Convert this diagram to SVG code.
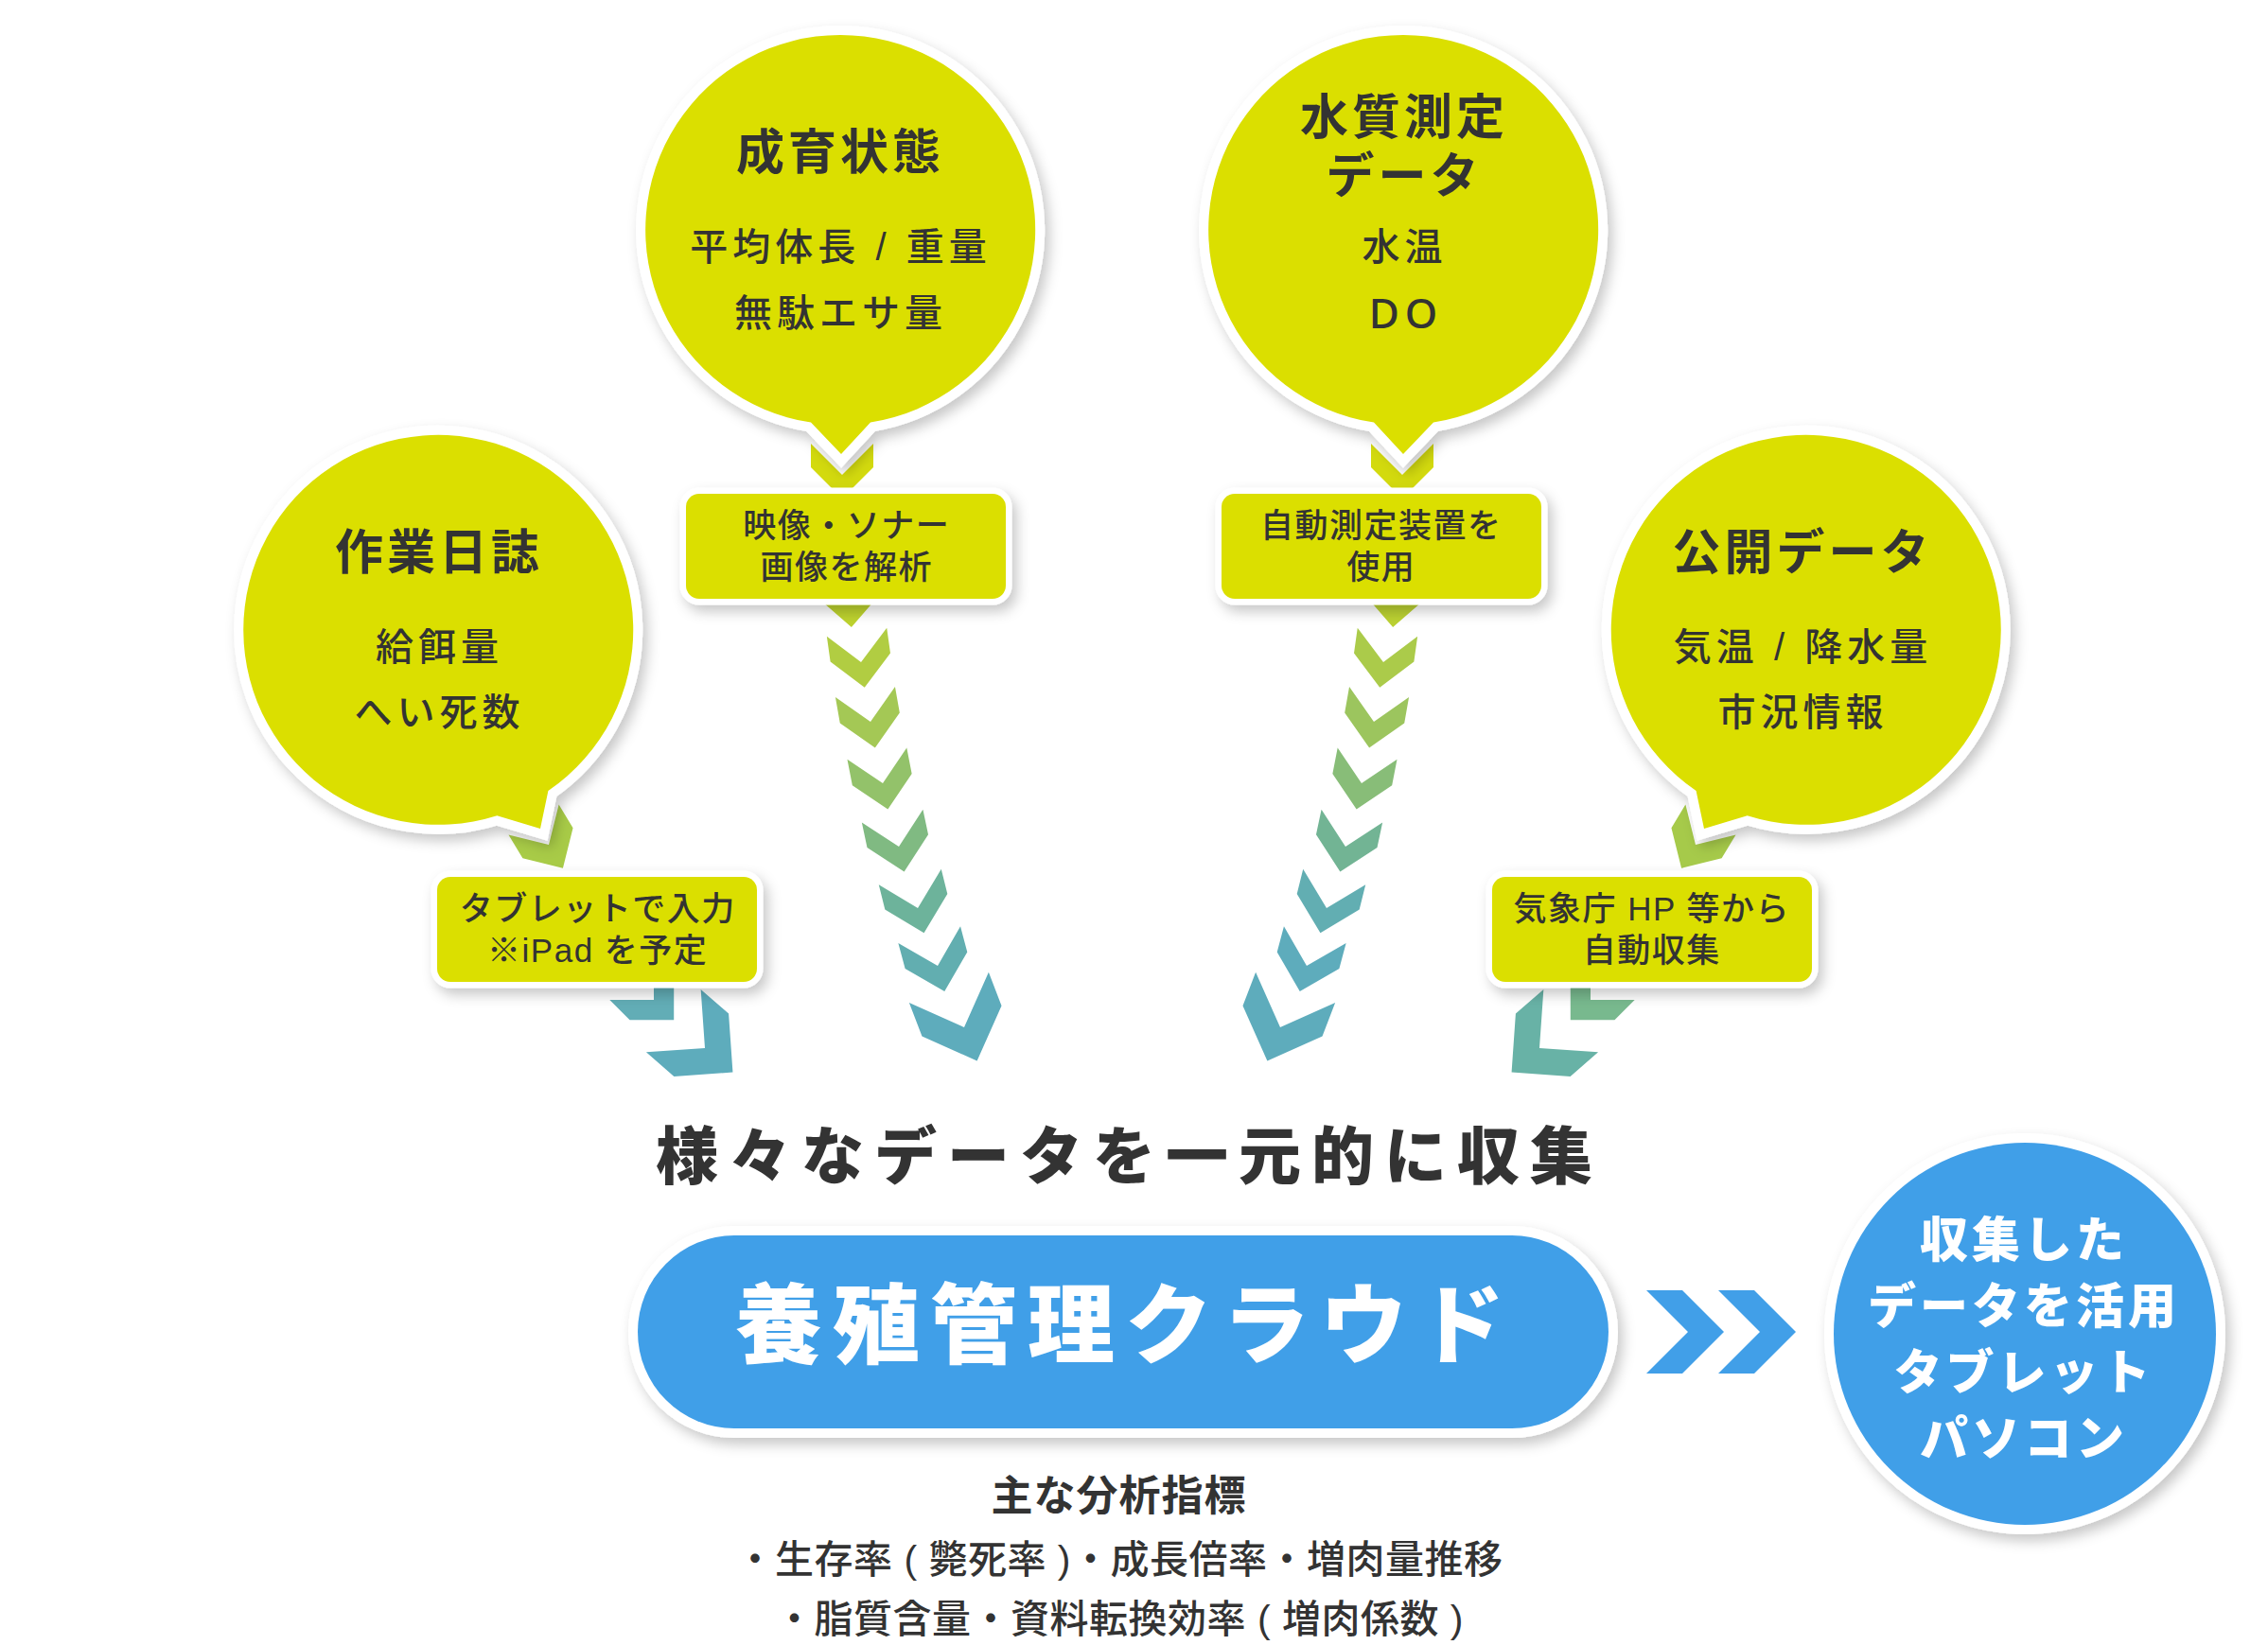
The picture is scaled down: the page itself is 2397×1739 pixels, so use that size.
<svg xmlns="http://www.w3.org/2000/svg" width="2397" height="1739" viewBox="0 0 2397 1739">
<defs>
<filter id="sh" x="-15%" y="-15%" width="135%" height="140%"><feDropShadow dx="5" dy="7" stdDeviation="7" flood-color="#000" flood-opacity="0.22"/></filter>
<style>
text{font-family:"Liberation Sans","Noto Sans CJK JP",sans-serif;fill:#333;text-anchor:middle;dominant-baseline:central}
.yl{fill:#dbdf00;stroke:#fff;stroke-width:20;paint-order:stroke;filter:url(#sh)}
.bx{fill:#dbdf00;stroke:#fff;stroke-width:13;paint-order:stroke;filter:url(#sh)}
.bl{fill:#419fe8;stroke:#fff;stroke-width:20;paint-order:stroke;filter:url(#sh)}
.t1{font-size:51px;font-weight:700;letter-spacing:4px}
.t2{font-size:40px;font-weight:500;letter-spacing:5px}
.bt{font-size:35px;font-weight:500;letter-spacing:1.5px}
.hd{font-size:66px;font-weight:900;letter-spacing:11px}
.cl{font-size:92px;font-weight:900;letter-spacing:11px;fill:#fff}
.ct{font-size:51px;font-weight:900;letter-spacing:4px;fill:#fff}
.st{font-size:44px;font-weight:700;letter-spacing:1px}
.ls{font-size:41px;font-weight:500;letter-spacing:0.5px}
</style>
</defs>
<rect width="2397" height="1739" fill="#fff"/>

<g id="connectors">
  <g id="chain-growth">
    <polygon fill="#d3da0e" transform="translate(890,502)" points="-33,-33 0,0 33,-33 33,-8 0,25 -33,-8"/>
    <polygon fill="#bdd22e" transform="translate(898,636) rotate(-4)" points="-32,-32 0,0 32,-32 32,-5 0,27 -32,-5"/>
    <polygon fill="#b1cd42" transform="translate(910,700) rotate(-8)" points="-32,-32 0,0 32,-32 32,-5 0,27 -32,-5"/>
    <polygon fill="#a4c855" transform="translate(920,763) rotate(-10)" points="-32,-32 0,0 32,-32 32,-4 0,28 -32,-4"/>
    <polygon fill="#93c26a" transform="translate(933,828) rotate(-11)" points="-32,-32 0,0 32,-32 32,-4 0,28 -32,-4"/>
    <polygon fill="#80ba82" transform="translate(950,895) rotate(-12)" points="-33,-33 0,0 33,-33 33,-6 0,27 -33,-6"/>
    <polygon fill="#6db39b" transform="translate(970,960) rotate(-14)" points="-34,-34 0,0 34,-34 34,-7 0,27 -34,-7"/>
    <polygon fill="#62aeb0" transform="translate(991,1021) rotate(-15)" points="-34,-34 0,0 34,-34 34,-6 0,28 -34,-6"/>
    <polygon fill="#5eacbc" transform="translate(1019,1086) rotate(-21)" points="-45,-45 0,0 45,-45 45,-7 0,38 -45,-7"/>
  </g>
  <g id="chain-water" transform="translate(2372,0) scale(-1,1)">
    <polygon fill="#d3da0e" transform="translate(890,502)" points="-33,-33 0,0 33,-33 33,-8 0,25 -33,-8"/>
    <polygon fill="#bbd132" transform="translate(898,636) rotate(-4)" points="-32,-32 0,0 32,-32 32,-5 0,27 -32,-5"/>
    <polygon fill="#abcb4a" transform="translate(910,700) rotate(-8)" points="-32,-32 0,0 32,-32 32,-5 0,27 -32,-5"/>
    <polygon fill="#9cc55e" transform="translate(920,763) rotate(-10)" points="-32,-32 0,0 32,-32 32,-4 0,28 -32,-4"/>
    <polygon fill="#88bd78" transform="translate(933,828) rotate(-11)" points="-32,-32 0,0 32,-32 32,-4 0,28 -32,-4"/>
    <polygon fill="#72b494" transform="translate(950,895) rotate(-12)" points="-33,-33 0,0 33,-33 33,-6 0,27 -33,-6"/>
    <polygon fill="#62aeb2" transform="translate(970,960) rotate(-14)" points="-34,-34 0,0 34,-34 34,-7 0,27 -34,-7"/>
    <polygon fill="#5eacbc" transform="translate(991,1021) rotate(-15)" points="-34,-34 0,0 34,-34 34,-6 0,28 -34,-6"/>
    <polygon fill="#5eacbc" transform="translate(1019,1086) rotate(-21)" points="-45,-45 0,0 45,-45 45,-7 0,38 -45,-7"/>
  </g>
  <g id="chain-diary">
    <polygon fill="#a8cb47" transform="translate(580,893) rotate(-31)" points="-31,-31 0,0 31,-31 31,-2 0,29 -31,-2"/>
    <polygon fill="#85bd78" transform="translate(634,966) rotate(-38)" points="-32,-32 0,0 32,-32 32,-3 0,29 -32,-3"/>
    <polygon fill="#62adb6" transform="translate(691,1057) rotate(-45)" points="-33,-33 0,0 33,-33 33,-3 0,30 -33,-3"/>
    <polygon fill="#5eacbc" transform="translate(745,1108) rotate(-49)" points="-44,-44 0,0 44,-44 44,-5 0,39 -44,-5"/>
  </g>
  <g id="chain-public" transform="translate(2372,0) scale(-1,1)">
    <polygon fill="#a6ca4a" transform="translate(580,893) rotate(-31)" points="-31,-31 0,0 31,-31 31,-2 0,29 -31,-2"/>
    <polygon fill="#8fc170" transform="translate(634,966) rotate(-38)" points="-32,-32 0,0 32,-32 32,-3 0,29 -32,-3"/>
    <polygon fill="#78b98e" transform="translate(691,1057) rotate(-45)" points="-33,-33 0,0 33,-33 33,-3 0,30 -33,-3"/>
    <polygon fill="#68b2a6" transform="translate(745,1108) rotate(-49)" points="-44,-44 0,0 44,-44 44,-5 0,39 -44,-5"/>
  </g>
  <g id="arrow-cloud-use" fill="#419fe8">
    <polygon points="1740,1364 1778,1364 1822,1408 1778,1452 1740,1452 1784,1408"/>
    <polygon points="1816,1364 1854,1364 1898,1408 1854,1452 1816,1452 1860,1408"/>
  </g>
</g>

<g id="node-growth">
  <path class="yl" d="M857,446.6 A206,206 0 1 1 920,446.5 L889,480 Z"/>
  <text class="t1" x="888" y="161">成育状態</text>
  <text class="t2" x="888.5" y="261">平均体長 / 重量<tspan x="888.5" dy="70">無駄エサ量</tspan></text>
</g>
<g id="node-water">
  <path class="yl" d="M1452,446.6 A206,206 0 1 1 1515,446.5 L1483,480 Z"/>
  <text class="t1" x="1484" y="124">水質測定<tspan x="1484" dy="62">データ</tspan></text>
  <text class="t2" x="1484.5" y="261">水温</text>
  <text class="t2" x="1486" y="330" style="font-family:'Noto Sans','Liberation Sans',sans-serif;font-size:44px;letter-spacing:6px">DO</text>
</g>
<g id="node-diary">
  <path class="yl" d="M525.3,862.3 A206,206 0 1 1 579.4,836 L571,876 Z"/>
  <text class="t1" x="464" y="584">作業日誌</text>
  <text class="t2" x="464.5" y="684">給餌量<tspan x="464.5" dy="69">へい死数</tspan></text>
</g>
<g id="node-public">
  <path class="yl" d="M1846.7,862.3 A206,206 0 1 0 1792.6,836 L1801,876 Z"/>
  <text class="t1" x="1905" y="584">公開データ</text>
  <text class="t2" x="1905.5" y="684">気温 / 降水量<tspan x="1905.5" dy="69">市況情報</tspan></text>
</g>

<g id="box-video">
  <rect class="bx" x="725" y="522" width="338" height="111" rx="14"/>
  <text class="bt" x="894.7" y="555">映像・ソナー<tspan x="894.7" dy="44">画像を解析</tspan></text>
</g>
<g id="box-auto">
  <rect class="bx" x="1291" y="522" width="338" height="111" rx="14"/>
  <text class="bt" x="1459.7" y="555">自動測定装置を<tspan x="1459.7" dy="44">使用</tspan></text>
</g>
<g id="box-tablet">
  <rect class="bx" x="462" y="927" width="338" height="111" rx="14"/>
  <text class="bt" x="631.7" y="960">タブレットで入力<tspan x="631.7" dy="44">※iPad を予定</tspan></text>
</g>
<g id="box-jma">
  <rect class="bx" x="1577" y="927" width="338" height="111" rx="14"/>
  <text class="bt" x="1745.7" y="960">気象庁 HP 等から<tspan x="1745.7" dy="44">自動収集</tspan></text>
</g>

<g id="heading">
  <text class="hd" x="1193.5" y="1223">様々なデータを一元的に収集</text>
</g>

<g id="node-cloud">
  <rect class="bl" x="674" y="1306" width="1026" height="204" rx="102"/>
  <text class="cl" x="1189" y="1402">養殖管理クラウド</text>
</g>

<g id="node-indicators">
  <text class="st" x="1182.5" y="1581">主な分析指標</text>
  <text class="ls" x="1183" y="1649">・生存率 ( 斃死率 )・成長倍率・増肉量推移<tspan x="1183" dy="63">・脂質含量・資料転換効率 ( 増肉係数 )</tspan></text>
</g>

<g id="node-use">
  <circle class="bl" cx="2140" cy="1410" r="202"/>
  <text class="ct" x="2139" y="1311">収集した<tspan x="2139" dy="70">データを活用</tspan><tspan x="2139" dy="70">タブレット</tspan><tspan x="2139" dy="70">パソコン</tspan></text>
</g>
</svg>
